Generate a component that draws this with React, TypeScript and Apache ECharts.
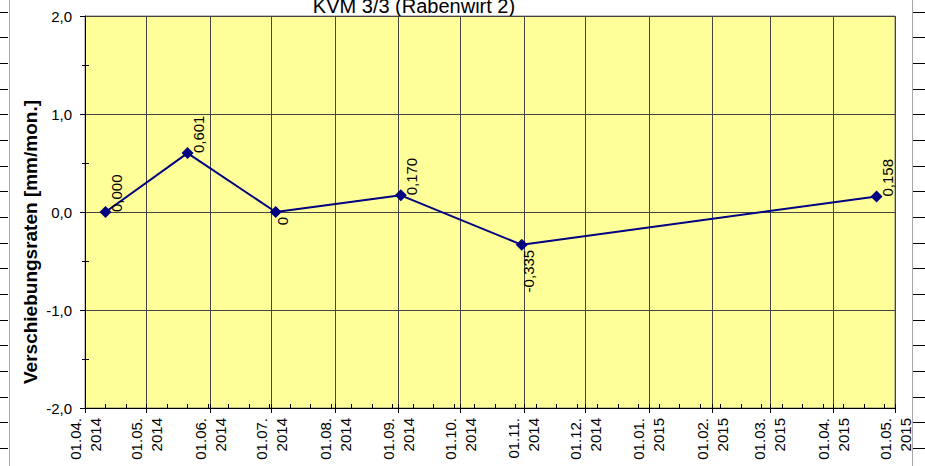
import React, { useEffect, useRef } from "react";
import * as echarts from "echarts";

// ---- data ----
const chartTitle = "KVM 3/3 (Rabenwirt 2)";
const yAxisTitle = "Verschiebungsraten [mm/mon.]";
const monthStarts = [
  "2014-04-01", "2014-05-01", "2014-06-01", "2014-07-01", "2014-08-01",
  "2014-09-01", "2014-10-01", "2014-11-01", "2014-12-01", "2015-01-01",
  "2015-02-01", "2015-03-01", "2015-04-01", "2015-05-01",
];
const pointDates = ["2014-04-11", "2014-05-21", "2014-07-03", "2014-09-02", "2014-10-31", "2015-04-22"];
const rates = [0.0, 0.601, 0.0, 0.17, -0.335, 0.158];
const rateLabels = ["0,000", "0,601", "0", "0,170", "-0,335", "0,158"];
const labelSide = ["up", "up", "down", "up", "down", "up"];
const yTicks = [-2, -1, 0, 1, 2];
const yMinorTicks = [-1.5, -0.5, 0.5, 1.5];

const FONT = "'Liberation Sans', Arial, sans-serif";
const origin = Date.UTC(2014, 3, 1);
const dayOf = (s: string) => {
  const [y, m, d] = s.split("-").map(Number);
  return Math.round((Date.UTC(y, m - 1, d) - origin) / 86400000);
};
const monthDays = monthStarts.map(dayOf);
const monthLabels = monthStarts.map((s) => {
  const [y, m, d] = s.split("-");
  return `${d}.${m}.\n${y}`;
});
const xMax = monthDays[monthDays.length - 1];
const minorDays: number[] = [];
for (let d = 0; d <= xMax; d += 10) minorDays.push(d);
monthDays.forEach((d) => { if (!minorDays.includes(d)) minorDays.push(d); });
minorDays.sort((a, b) => a - b);

export default function App() {
  const ref = useRef<HTMLDivElement>(null);
  useEffect(() => {
    if (!ref.current) return;
    const chart = echarts.init(ref.current, undefined, { renderer: "svg" });

    const deco: any[] = [];
    deco.push({ type: "line", shape: { x1: 9.5, y1: 0, x2: 9.5, y2: 466 }, style: { stroke: "#a8a8a8", lineWidth: 1 } });
    deco.push({ type: "line", shape: { x1: 912.5, y1: 0, x2: 912.5, y2: 466 }, style: { stroke: "#a8a8a8", lineWidth: 1 } });
    for (let k = 0; k < 18; k++) {
      const y = Math.round(11.7 + k * 25.66) + 0.5;
      deco.push({ type: "line", shape: { x1: 0, y1: y, x2: 8, y2: y }, style: { stroke: "#000", lineWidth: 1 } });
      deco.push({ type: "line", shape: { x1: 913, y1: y, x2: 925, y2: y }, style: { stroke: "#000", lineWidth: 1 } });
    }
    deco.push({
      type: "text", x: 414, y: 6,
      style: { text: chartTitle, font: `20px ${FONT}`, fill: "#000", textAlign: "center", textVerticalAlign: "middle" },
    });
    deco.push({
      type: "text", x: 30, y: 242, rotation: Math.PI / 2,
      style: { text: yAxisTitle, font: `bold 19px ${FONT}`, fill: "#000", textAlign: "center", textVerticalAlign: "middle" },
    });

    const data = pointDates.map((d, i) => {
      const up = labelSide[i] === "up";
      return {
        value: [dayOf(d), rates[i]],
        label: {
          formatter: rateLabels[i],
          align: up ? "left" : "right",
          offset: up ? [0, 1] : [-5, -3],
        },
      };
    });

    chart.setOption({
      animation: false,
      grid: {
        left: 85, right: 30, top: 16, bottom: 58,
        show: true, backgroundColor: "#FFFF99", borderColor: "#808080", borderWidth: 1,
      },
      graphic: deco,
      xAxis: [
        {
          type: "value", min: 0, max: xMax,
          axisLine: { show: true, onZero: false, lineStyle: { color: "#000", width: 1 } },
          axisTick: { show: true, length: 5, customValues: monthDays, lineStyle: { color: "#000" } },
          axisLabel: {
            customValues: monthDays,
            rotate: 90, margin: 10, fontSize: 15, fontFamily: FONT, color: "#000", lineHeight: 20,
            formatter: (v: number) => {
              const i = monthDays.indexOf(Math.round(v));
              return i >= 0 ? monthLabels[i] : "";
            },
          },
          splitLine: { show: true, lineStyle: { color: "#444", width: 1 } },
        },
        {
          type: "value", min: 0, max: xMax, position: "bottom",
          axisLine: { show: false, onZero: false },
          axisTick: { show: true, inside: true, length: 4, customValues: minorDays, lineStyle: { color: "#000" } },
          axisLabel: { show: false },
          splitLine: { show: false },
        },
      ],
      yAxis: [
        {
          type: "value", min: -2, max: 2, interval: 1,
          axisLine: { show: true, onZero: false, lineStyle: { color: "#000", width: 1 } },
          axisTick: { show: true, length: 5, lineStyle: { color: "#000" } },
          minorTick: { show: true, splitNumber: 2, length: 3, lineStyle: { color: "#000" } },
          axisLabel: {
            margin: 13, fontSize: 15, fontFamily: FONT, color: "#000",
            formatter: (v: number) => (yTicks.includes(v) ? v.toFixed(1).replace(".", ",") : ""),
          },
          splitLine: { show: true, lineStyle: { color: "#444", width: 1 } },
        },
        {
          type: "value", min: -2, max: 2, position: "left",
          axisLine: { show: false, onZero: false },
          axisTick: { show: true, inside: true, length: 4, customValues: yMinorTicks, lineStyle: { color: "#000" } },
          axisLabel: { show: false },
          splitLine: { show: false },
        },
      ],
      series: [
        {
          type: "line",
          xAxisIndex: 0, yAxisIndex: 0,
          data,
          symbol: "diamond", symbolSize: 12,
          lineStyle: { color: "#000080", width: 2 },
          itemStyle: { color: "#000080" },
          label: {
            show: true, position: "right", distance: 4, rotate: 90,
            verticalAlign: "middle",
            fontSize: 15, fontFamily: FONT, color: "#000",
          },
        },
      ],
    });
    return () => chart.dispose();
  }, []);
  return <div ref={ref} style={{ width: 925, height: 466, position: "absolute", left: 0, top: 0 }} />;
}
